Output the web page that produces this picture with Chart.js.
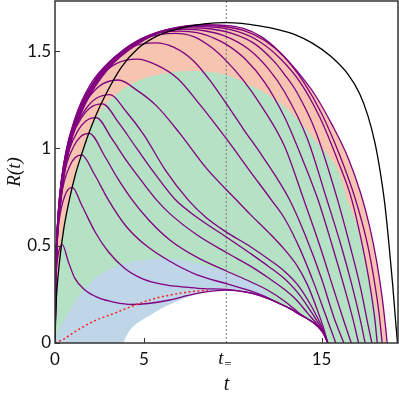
<!DOCTYPE html>
<html><head><meta charset="utf-8">
<script src="https://cdn.jsdelivr.net/npm/chart.js@4"></script>
<style>html,body{margin:0;padding:0;background:#fff}canvas{display:block}</style>
</head><body>
<canvas id="c" width="399" height="398"></canvas>
<script>
// ---------- data ----------
const tEq = 9.64;
const xTickValues = [0, 5, tEq, 15];
const xTickLabels = ['0', '5', 't=', '15'];
const yTickValues = [0, 0.5, 1, 1.5];
const yTickLabels = ['0', '0.5', '1', '1.5'];

const blackCurve = [[0,0],[0.05,0.18],[0.15,0.32],[0.28,0.44],[0.5,0.59],[0.84,0.75],[1.16,0.87],[1.5,0.97],[1.87,1.07],[2.3,1.17],[2.81,1.27],[3.75,1.42],[4.68,1.515],[5.62,1.572],[6.46,1.603],[7.5,1.628],[8.5,1.642],[9.64,1.647],[10.5,1.643],[11.5,1.63],[12.5,1.612],[13.5,1.585],[14.5,1.54],[15.5,1.475],[16.5,1.38],[17.13,1.284],[17.6,1.17],[18.0,1.03],[18.3,0.88],[18.55,0.72],[18.8,0.5],[19.0,0.3],[19.15,0.13],[19.27,0]];

const lowerEnv = [[3.84,0],[4.1,0.05],[4.4,0.085],[5.0,0.125],[5.34,0.142],[6.0,0.178],[6.46,0.198],[7.2,0.228],[8.15,0.256],[9.0,0.269],[9.6,0.272],[10.2,0.269],[11.05,0.256],[12.0,0.228],[12.74,0.198],[13.2,0.178],[13.86,0.142],[14.2,0.125],[14.8,0.085],[15.1,0.05],[15.35,0]];

const greenTop = [[0,0],[0.05,0.18],[0.15,0.32],[0.28,0.44],[0.5,0.59],[0.84,0.75],[1.16,0.87],[1.5,0.97],[1.87,1.07],[2.53,1.19],[3.47,1.28],[4.78,1.352],[6.27,1.387],[7.58,1.398],[8.5,1.396],[9.64,1.378],[11.14,1.318],[12.92,1.215],[14.79,1.027],[15.95,0.88],[16.45,0.736],[17.0,0.6],[17.4,0.452],[17.98,0.195],[18.25,0.08],[18.44,0]];

const blueTop = [[0,0],[0.15,0.05],[0.56,0.126],[1.12,0.212],[1.87,0.298],[2.81,0.366],[3.75,0.404],[4.87,0.426],[6.46,0.435],[7.5,0.42],[8.33,0.4],[9.64,0.366],[10.77,0.324],[11.3,0.3],[11.8,0.27],[12.2,0.222]];

const redDotted = [[0,0],[0.5,0.02],[1.12,0.058],[2.25,0.115],[3.4,0.155],[4.59,0.198],[5.62,0.229],[6.46,0.246],[7.58,0.263],[8.6,0.271]];

const c01 = [[0,0],[0.004,0.127],[0.016,0.228],[0.041,0.314],[0.082,0.38],[0.144,0.435],[0.226,0.476],[0.308,0.498],[0.41,0.506],[0.75,0.418],[1.12,0.332],[1.69,0.272],[2.43,0.233],[3.37,0.209],[4.31,0.198],[5.24,0.203],[6.46,0.221],[7.5,0.245],[8.5,0.263],[9.6,0.272]];
const c02 = [[0,0],[0.01,0.2],[0.039,0.36],[0.097,0.496],[0.194,0.6],[0.34,0.688],[0.534,0.752],[0.728,0.788],[0.97,0.8],[1.5,0.709],[2.25,0.572],[3.0,0.469],[3.93,0.383],[4.87,0.332],[5.6,0.31],[6.46,0.295],[7.4,0.287],[8.33,0.28],[9.64,0.276],[10.5,0.265],[11.05,0.256]];
const c03 = [[0,0],[0.015,0.242],[0.06,0.435],[0.15,0.6],[0.3,0.725],[0.525,0.832],[0.825,0.909],[1.125,0.952],[1.5,0.967],[2.2,0.87],[3.0,0.736],[4.0,0.6],[5.0,0.51],[6.46,0.42],[8.0,0.35],[9.64,0.305],[11.0,0.268],[11.8,0.24],[12.3,0.218]];
const c04 = [[0,0],[0.019,0.27],[0.077,0.485],[0.193,0.668],[0.386,0.809],[0.676,0.927],[1.062,1.013],[1.448,1.062],[1.93,1.078],[2.8,0.96],[3.5,0.85],[4.34,0.736],[5.3,0.63],[6.46,0.53],[8.0,0.44],[9.64,0.37],[11.0,0.315],[12.0,0.27],[12.92,0.215],[13.4,0.18],[13.86,0.145]];
const c05 = [[0,0],[0.023,0.29],[0.093,0.521],[0.232,0.718],[0.464,0.869],[0.812,0.996],[1.276,1.089],[1.74,1.141],[2.32,1.158],[3.2,1.05],[4.0,0.94],[4.9,0.83],[5.71,0.736],[6.46,0.665],[8.0,0.555],[9.64,0.465],[11.0,0.395],[12.0,0.335],[12.92,0.275],[13.6,0.22],[14.2,0.155],[14.8,0.09],[15.1,0.052],[15.35,0]];
const c06 = [[0,0],[0.027,0.307],[0.107,0.553],[0.267,0.762],[0.534,0.922],[0.935,1.057],[1.469,1.155],[2.003,1.211],[2.67,1.229],[3.6,1.13],[4.6,1.0],[5.7,0.86],[6.78,0.736],[8.0,0.645],[9.64,0.545],[11.0,0.46],[12.0,0.395],[12.92,0.33],[13.6,0.265],[14.2,0.19],[14.8,0.105],[15.1,0.055],[15.35,0]];
const c07 = [[0,0],[0.031,0.319],[0.124,0.575],[0.31,0.792],[0.62,0.958],[1.085,1.098],[1.705,1.2],[2.325,1.258],[3.1,1.277],[4.0,1.19],[5.0,1.07],[6.2,0.89],[7.49,0.736],[8.5,0.645],[9.64,0.57],[11.0,0.495],[12.0,0.432],[12.92,0.368],[13.6,0.305],[14.2,0.225],[14.8,0.125],[15.1,0.065],[15.35,0]];
const c08 = [[0,0],[0.036,0.338],[0.143,0.608],[0.358,0.838],[0.716,1.014],[1.253,1.163],[1.969,1.271],[2.685,1.332],[3.58,1.352],[4.6,1.3],[5.7,1.22],[7.0,1.08],[8.5,0.9],[10.2,0.736],[11.0,0.66],[12.0,0.57],[12.92,0.48],[13.6,0.4],[14.2,0.3],[14.8,0.16],[15.1,0.08],[15.35,0]];
const c09 = [[0,0],[0.046,0.365],[0.185,0.657],[0.463,0.905],[0.926,1.094],[1.621,1.255],[2.547,1.371],[3.473,1.437],[4.63,1.459],[5.7,1.43],[6.9,1.36],[8.2,1.22],[9.64,1.05],[11.0,0.88],[12.17,0.736],[12.92,0.64],[13.8,0.48],[14.6,0.3],[15.2,0.15],[15.6,0.05],[15.8,0]];
const c10 = [[0,0],[0.057,0.386],[0.226,0.694],[0.565,0.957],[1.13,1.157],[1.978,1.327],[3.108,1.45],[4.238,1.52],[5.65,1.543],[6.7,1.52],[7.8,1.45],[8.8,1.34],[9.64,1.23],[10.6,1.1],[11.6,0.97],[12.4,0.86],[13.2,0.736],[14.1,0.55],[15.0,0.33],[15.7,0.13],[16.25,0]];
const c11 = [[0,0],[0.068,0.398],[0.272,0.716],[0.68,0.987],[1.36,1.194],[2.38,1.369],[3.74,1.496],[5.1,1.568],[6.8,1.592],[7.8,1.575],[8.8,1.52],[9.64,1.45],[10.6,1.35],[11.6,1.22],[12.92,1.01],[14.0,0.736],[14.9,0.5],[15.7,0.27],[16.3,0.1],[16.67,0]];
const c12 = [[0,0],[0.07,0.401],[0.28,0.721],[0.7,0.994],[1.4,1.202],[2.45,1.379],[3.85,1.507],[5.25,1.579],[7.0,1.603],[8.0,1.595],[9.0,1.565],[9.64,1.535],[10.7,1.46],[11.8,1.34],[12.92,1.16],[13.9,0.95],[14.8,0.736],[15.6,0.5],[16.3,0.28],[16.8,0.11],[17.08,0]];
const c13 = [[0,0],[0.073,0.403],[0.292,0.725],[0.73,0.999],[1.46,1.209],[2.555,1.386],[4.015,1.515],[5.475,1.588],[7.3,1.612],[8.4,1.605],[9.64,1.575],[10.9,1.51],[12.0,1.41],[12.92,1.29],[14.2,1.05],[15.3,0.736],[16.1,0.5],[16.7,0.3],[17.2,0.11],[17.45,0]];
const c14 = [[0,0],[0.076,0.405],[0.304,0.729],[0.76,1.004],[1.52,1.215],[2.66,1.393],[4.18,1.523],[5.7,1.596],[7.6,1.62],[8.8,1.614],[10.0,1.59],[11.2,1.54],[12.3,1.45],[12.92,1.38],[13.6,1.29],[14.7,1.08],[15.9,0.736],[16.6,0.5],[17.2,0.28],[17.6,0.1],[17.83,0]];
const c15 = [[0,0],[0.079,0.407],[0.316,0.732],[0.79,1.008],[1.58,1.22],[2.765,1.398],[4.345,1.528],[5.925,1.602],[7.9,1.626],[9.1,1.622],[10.3,1.6],[11.5,1.55],[12.7,1.46],[13.8,1.34],[14.9,1.16],[15.9,0.94],[16.7,0.736],[17.3,0.5],[17.75,0.28],[18.0,0.12],[18.13,0]];
const c16 = [[0,0],[0.082,0.408],[0.328,0.734],[0.82,1.011],[1.64,1.223],[2.87,1.403],[4.51,1.533],[6.15,1.607],[8.2,1.631],[9.4,1.627],[10.6,1.607],[11.8,1.555],[12.9,1.47],[14.0,1.34],[15.0,1.18],[16.0,0.97],[16.9,0.74],[17.6,0.5],[18.0,0.3],[18.25,0.14],[18.41,0]];
const c17 = [[0,0],[0.085,0.409],[0.34,0.736],[0.85,1.014],[1.7,1.227],[2.975,1.407],[4.675,1.538],[6.375,1.611],[8.5,1.636],[9.6,1.633],[10.6,1.617],[11.6,1.575],[12.6,1.5],[13.6,1.4],[14.6,1.28],[15.6,1.12],[16.5,0.95],[17.2,0.77],[17.7,0.6],[18.1,0.42],[18.4,0.24],[18.58,0.1],[18.69,0]];

const purpleCurves = [c01,c02,c03,c04,c05,c06,c07,c08,c09,c10,c11,c12,c13,c14,c15,c16,c17];

// ---------- build ----------
const xy = a => a.map(p => ({x: p[0], y: p[1]}));
const withEnvTail = a => {
  const last = a[a.length - 1][0];
  return last >= 15.35 ? a : a.concat(lowerEnv.filter(p => p[0] > last));
};

const base = {pointRadius: 0, pointHoverRadius: 0, cubicInterpolationMode: 'monotone', fill: false};
const datasets = [];
datasets.push(Object.assign({}, base, {data: xy(c17), borderWidth: 0, borderColor: 'rgba(0,0,0,0)', backgroundColor: '#f6c4b0', fill: 'origin', order: 100}));
datasets.push(Object.assign({}, base, {data: xy(greenTop), borderWidth: 0, borderColor: 'rgba(0,0,0,0)', backgroundColor: '#b5e1c5', fill: 'origin', order: 90}));
datasets.push(Object.assign({}, base, {data: xy(blueTop), borderWidth: 0, borderColor: 'rgba(0,0,0,0)', backgroundColor: '#bed6e8', fill: 'origin', order: 80}));
datasets.push(Object.assign({}, base, {data: xy(lowerEnv), borderWidth: 0, borderColor: 'rgba(0,0,0,0)', backgroundColor: '#ffffff', fill: 'origin', order: 70}));
datasets.push({data: [{x: tEq, y: 0}, {x: tEq, y: 1.76}], pointRadius: 0, borderColor: '#8a8a8a', borderWidth: 1.2, borderDash: [2, 2], fill: false, order: 60});
purpleCurves.forEach(c => datasets.push(Object.assign({}, base, {data: xy(withEnvTail(c)), borderColor: '#800080', borderWidth: 1.3, order: 50})));
datasets.push(Object.assign({}, base, {data: xy(blackCurve), borderColor: '#000000', borderWidth: 1.3, order: 40}));
datasets.push(Object.assign({}, base, {data: xy(redDotted), borderColor: '#ff2020', borderWidth: 1.5, borderDash: [2, 2.5], order: 30}));

const tickFont = {family: 'Lato', size: 17};

const framePlugin = {
  id: 'frame',
  afterDraw(chart) {
    const {ctx, chartArea: a, scales: {x, y}} = chart;
    ctx.save();
    ctx.strokeStyle = '#333';
    ctx.lineWidth = 1.5;
    ctx.strokeRect(a.left, a.top, a.right - a.left, a.bottom - a.top);
    ctx.lineWidth = 1;
    ctx.beginPath();
    xTickValues.forEach(v => { if (v === tEq) return; const px = Math.round(x.getPixelForValue(v)) + 0.5; ctx.moveTo(px, a.bottom); ctx.lineTo(px, a.bottom - 5); });
    yTickValues.forEach(v => { const py = Math.round(y.getPixelForValue(v)) + 0.5; ctx.moveTo(a.left, py); ctx.lineTo(a.left + 5, py); });
    ctx.stroke();
    ctx.fillStyle = '#111';
    ctx.textBaseline = 'alphabetic';
    ctx.textAlign = 'left';
    const px = x.getPixelForValue(tEq);
    ctx.font = 'italic 19px "Liberation Serif"';
    ctx.fillText('t', px - 8, 364);
    ctx.font = '13px "Liberation Serif"';
    ctx.fillText('=', px - 2, 368);
    ctx.font = 'italic 20px "Liberation Serif"';
    ctx.textAlign = 'center';
    ctx.fillText('t', (a.left + a.right) / 2, 390);
    ctx.translate(20, (a.top + a.bottom) / 2);
    ctx.rotate(-Math.PI / 2);
    ctx.font = 'italic 19px "Liberation Serif"';
    ctx.fillText('R(t)', 0, 0);
    ctx.restore();
  }
};

new Chart(document.getElementById('c'), {
  type: 'line',
  data: {datasets},
  options: {
    responsive: false,
    animation: false,
    devicePixelRatio: 1,
    layout: {padding: {top: 1, right: 1, left: 0, bottom: 0}},
    plugins: {legend: {display: false}, tooltip: {enabled: false}},
    events: [],
    scales: {
      x: {
        type: 'linear', min: 0, max: 19.3,
        grid: {display: false, drawTicks: false},
        border: {display: false},
        afterBuildTicks: s => { s.ticks = xTickValues.map(v => ({value: v})); },
        afterFit: s => { s.height = 55; s.paddingLeft = 0; s.paddingRight = 0; },
        ticks: {autoSkip: false, maxRotation: 0, padding: 6, color: '#111', font: tickFont,
          callback: v => { const i = xTickValues.indexOf(v); return (i < 0 || v === tEq) ? '' : xTickLabels[i]; }}
      },
      y: {
        type: 'linear', min: 0, max: 1.758,
        grid: {display: false, drawTicks: false},
        border: {display: false},
        afterBuildTicks: s => { s.ticks = yTickValues.map(v => ({value: v})); },
        afterFit: s => { s.width = 55; s.paddingTop = 0; s.paddingBottom = 0; },
        ticks: {autoSkip: false, padding: 4, color: '#111', font: tickFont,
          callback: v => { const i = yTickValues.indexOf(v); return i < 0 ? '' : yTickLabels[i]; }}
      }
    }
  },
  plugins: [framePlugin]
});
</script>
</body></html>
